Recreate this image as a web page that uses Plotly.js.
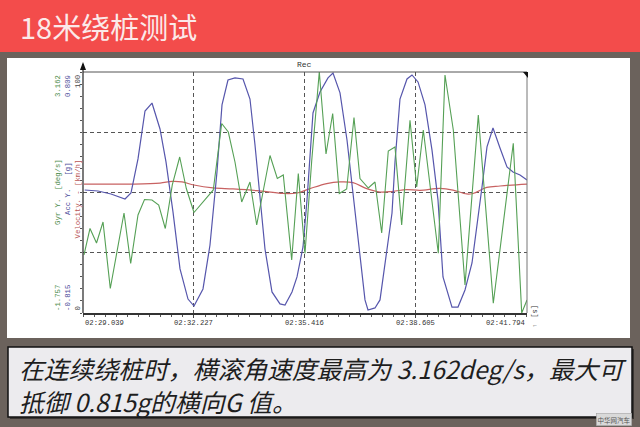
<!DOCTYPE html>
<html><head><meta charset="utf-8">
<script src="https://cdn.plot.ly/plotly-3.0.1.min.js"></script>
<style>html,body{margin:0;padding:0;background:#6b625c;}#chart{width:640px;height:427px;}</style>
</head><body><div id="chart"></div>
<script>
// ---- data ----
const tickTimes = [149.039, 152.227, 155.416, 158.605, 161.794];
const tickText = ['02:29.039', '02:32.227', '02:35.416', '02:38.605', '02:41.794'];
const recTime = 155.416;

const velRange = [0, 100];
const accRange = [-0.815, 0.809];
const gyrRange = [-1.757, 3.162];

const accT = [149.088,149.470,149.843,150.246,150.418,150.619,150.820,151.021,151.251,151.423,
  151.624,151.826,152.055,152.228,152.486,152.687,152.888,153.032,153.204,153.405,
  153.635,153.836,153.980,154.124,154.267,154.468,154.698,154.842,155.043,155.187,
  155.359,155.474,155.646,155.847,156.077,156.221,156.422,156.623,156.795,156.996,
  157.140,157.226,157.427,157.571,157.772,157.916,158.002,158.145,158.347,158.490,
  158.663,158.864,159.065,159.237,159.381,159.639,159.812,160.013,160.214,160.386,
  160.501,160.645,160.817,161.018,161.219,161.392,161.593,161.794];
const accY = [0.014,0.007,-0.013,-0.047,-0.006,0.223,0.546,0.600,0.425,0.203,
  -0.134,-0.518,-0.721,-0.768,-0.653,-0.357,0.135,0.587,0.755,0.769,
  0.762,0.627,0.317,-0.020,-0.384,-0.673,-0.754,-0.761,-0.673,-0.572,
  -0.370,-0.053,0.533,0.674,0.769,0.802,0.668,0.351,-0.006,-0.458,
  -0.727,-0.795,-0.781,-0.727,-0.400,-0.141,0.203,0.627,0.762,0.789,
  0.742,0.587,0.283,-0.053,-0.572,-0.775,-0.775,-0.660,-0.478,-0.188,
  0.034,0.304,0.432,0.297,0.169,0.135,0.115,0.081];

const gyrT = [149.068,149.240,149.427,149.614,149.823,150.217,150.409,150.619,150.806,151.021,
  151.214,151.403,151.604,151.817,152.007,152.228,152.782,153.023,153.213,153.405,
  153.598,153.836,154.029,154.411,154.621,154.793,155.034,155.224,155.416,155.609,
  155.827,156.020,156.212,156.402,156.614,156.824,156.996,157.235,157.427,157.620,
  157.809,158.002,158.194,158.433,158.625,158.815,159.246,159.438,159.677,160.013,
  160.395,160.826,161.400,161.642,161.794];
const gyrY = [-0.573,-0.032,-0.328,0.100,-1.257,0.284,-0.747,0.243,0.560,0.549,
  0.447,-0.032,0.856,1.427,0.784,0.294,0.754,2.111,1.937,1.325,
  0.509,0.917,0.039,1.458,0.988,1.060,-0.675,1.090,-0.543,1.345,
  3.162,1.488,2.315,0.682,0.774,2.233,0.988,0.794,0.917,-0.124,
  1.550,1.631,0.039,2.176,0.815,1.978,-0.538,3.101,1.978,-1.185,
  2.284,-1.559,1.707,-1.757,-1.492];

const velT = [149.068,150.475,151.251,151.596,151.883,152.228,152.774,153.348,154.037,154.784,
  155.187,155.560,156.040,156.422,156.795,157.189,157.571,157.944,158.338,158.720,
  159.295,159.668,160.062,160.243,160.636,161.018,161.794];
const velY = [53.5,53.5,53.9,54.6,54.4,53.1,51.9,51.5,50.8,49.6,
  49.8,51.6,53.7,54.4,54.1,51.6,50.2,50.5,51.2,50.9,
  51.7,51.0,49.4,49.6,52.1,52.7,53.5];

const pageTitle = '18米绕桩测试';
const captionLines = ['在连续绕桩时，横滚角速度最高为 3.162deg/s，最大可', '抵御 0.815g的横向G 值。'];
const watermark = '中华网汽车';
const gyrTitle = 'Gyr Y.\u00a0\u00a0[deg/s]';
const accTitle = 'Acc Y.\u00a0\u00a0\u00a0[g]';
const velTitle = 'Velocity.\u00a0-\u00a0[km/h]';

// ---- colours ----
const cGyr = '#55a055', cAcc = '#5656ac', cVel = '#c86262';
const cGyrT = '#4c8c4c', cAccT = '#4b4b9a', cVelT = '#b85454';

// ---- pixel helpers (plot area L..R, T..B) ----
const L = 83, R = 527, T = 72, B = 313;
const px = x => (x - L) / (R - L);
const py = y => (B - y) / (B - T);
function rect(x0, y0, x1, y1, fill, layer, line) {
  return {type: 'rect', xref: 'paper', yref: 'paper', x0: px(x0), x1: px(x1), y0: py(y1), y1: py(y0),
    fillcolor: fill, line: line || {width: 0}, layer: layer || 'below'};
}
function path(pts, fill) {
  const d = pts.map((p, i) => (i ? 'L' : 'M') + px(p[0]) + ',' + py(p[1])).join(' ') + ' Z';
  return {type: 'path', xref: 'paper', yref: 'paper', path: d, fillcolor: fill, line: {width: 0}, layer: 'above'};
}
const mono = 'Liberation Mono, Courier New, monospace';
function ann(text, xPix, yPix, o) {
  return Object.assign({text: text, xref: 'paper', yref: 'paper', x: px(xPix), y: py(yPix),
    showarrow: false, xanchor: 'center', yanchor: 'middle', font: {family: mono, size: 7, color: '#333'}}, o || {});
}

const shapes = [
  rect(0, 0, 640, 52, '#f34c4b'),
  rect(7, 58, 630, 338, '#ffffff'),
  rect(10, 349, 634, 419, '#3a3532'),
  rect(8, 347, 632, 417, '#ecebee', 'below', {color: '#111', width: 1.5}),
  // plot frame
  {type: 'line', xref: 'paper', yref: 'paper', x0: 0, x1: 1, y0: 1, y1: 1, line: {color: '#555', width: 1}, layer: 'above'},
  {type: 'line', xref: 'paper', yref: 'paper', x0: 1, x1: 1, y0: 0, y1: 1, line: {color: '#777', width: 1}, layer: 'above'},
  {type: 'line', xref: 'paper', yref: 'paper', x0: 0, x1: 0, y0: 0, y1: py(64), line: {color: '#333', width: 1.3}, layer: 'above'},
  path([[80, 70], [86, 70], [83, 62]], '#111'),
  path([[523, 72], [528, 72], [528, 78]], '#111')
];

const annotations = [
  ann(pageTitle, 18, 26, {xanchor: 'left', font: {family: 'Noto Sans CJK SC', size: 29, color: '#fbe9e9'}}),
  ann(captionLines[0], 17, 368, {xanchor: 'left', font: {family: 'Noto Sans CJK SC', size: 24.8, color: '#1e1e1e', style: 'italic'}}),
  ann(captionLines[1], 17, 401, {xanchor: 'left', font: {family: 'Noto Sans CJK SC', size: 24.8, color: '#1e1e1e', style: 'italic'}}),
  ann(watermark, 614, 419, {bgcolor: '#d9d9d9', bordercolor: '#999', borderwidth: 0.5, borderpad: 1,
    font: {family: 'Noto Sans CJK SC', size: 6.5, color: '#555'}}),
  // axis range labels
  ann(gyrRange[1].toFixed(3), 58, T + 1, {yanchor: 'top', textangle: -90, font: {family: mono, size: 7.3, color: cGyrT}}),
  ann(accRange[1].toFixed(3), 68, T + 1, {yanchor: 'top', textangle: -90, font: {family: mono, size: 7.3, color: cAccT}}),
  ann(String(velRange[1]), 77.5, T + 1, {yanchor: 'top', textangle: -90, font: {family: mono, size: 7.3, color: '#444'}}),
  ann(gyrRange[0].toFixed(3), 58, B, {yanchor: 'bottom', textangle: -90, font: {family: mono, size: 7.3, color: cGyrT}}),
  ann(accRange[0].toFixed(3), 68, B, {yanchor: 'bottom', textangle: -90, font: {family: mono, size: 7.3, color: cAccT}}),
  ann(String(velRange[0]), 77.5, B, {yanchor: 'bottom', textangle: -90, font: {family: mono, size: 7.3, color: '#444'}}),
  // axis titles
  ann(gyrTitle, 58, 192, {textangle: -90, font: {family: mono, size: 7.3, color: cGyrT}}),
  ann(accTitle, 68, 189, {textangle: -90, font: {family: mono, size: 7.3, color: cAccT}}),
  ann(velTitle, 77.5, 199, {textangle: -90, font: {family: mono, size: 7.3, color: cVelT}}),
  // Rec marker
  {text: 'Rec', xref: 'x', yref: 'paper', x: recTime, y: 1, yanchor: 'bottom', yshift: 1, showarrow: false,
    font: {family: mono, size: 8, color: '#333'}},
  // unit at right
  ann('[s]', 535, 311, {textangle: 90, font: {family: mono, size: 7, color: '#333'}}),
  ann('←', 535, 325, {font: {family: mono, size: 6, color: '#333'}})
];
// time labels
tickTimes.forEach((t, i) => {
  annotations.push({text: tickText[i], xref: 'x', yref: 'paper', x: t, y: 0, yanchor: 'top', yshift: -4,
    xanchor: i === 0 ? 'left' : (i === tickTimes.length - 1 ? 'right' : 'center'), showarrow: false,
    font: {family: mono, size: 7.2, color: '#333'}});
});

const traces = [
  {x: velT, y: velY, yaxis: 'y', type: 'scatter', mode: 'lines', line: {color: cVel, width: 1.2, shape: 'spline'}, name: 'Velocity'},
  {x: accT, y: accY, yaxis: 'y2', type: 'scatter', mode: 'lines', line: {color: cAcc, width: 1.2}, name: 'Acc Y'},
  {x: gyrT, y: gyrY, yaxis: 'y3', type: 'scatter', mode: 'lines', line: {color: cGyr, width: 1.1}, name: 'Gyr Y'}
];

const layout = {
  width: 640, height: 427,
  margin: {l: L, r: 640 - R, t: T, b: 427 - B, pad: 0},
  paper_bgcolor: '#6b625c', plot_bgcolor: '#ffffff',
  showlegend: false,
  xaxis: {range: [tickTimes[0], tickTimes[tickTimes.length - 1]], tickmode: 'array', tickvals: tickTimes.slice(1, -1),
    showticklabels: false, ticks: 'outside', ticklen: 3, tickcolor: '#444',
    showgrid: true, gridcolor: '#555', griddash: '4px,3px', gridwidth: 1,
    showline: true, linecolor: '#333', linewidth: 2, zeroline: false,
    minor: {tickmode: 'linear', tick0: tickTimes[0], dtick: (tickTimes[1] - tickTimes[0]) / 10, ticks: 'outside', ticklen: 2, tickcolor: '#555', showgrid: false}},
  yaxis: {range: velRange, tickmode: 'array', tickvals: [25, 50, 75], showticklabels: false, ticks: '',
    showgrid: true, gridcolor: '#555', griddash: '4px,3px', gridwidth: 1,
    showline: false, zeroline: false,
    minor: {tickmode: 'linear', tick0: 0, dtick: 5, ticks: 'outside', ticklen: 2, tickcolor: '#555', showgrid: false}},
  yaxis2: {range: accRange, overlaying: 'y', visible: false},
  yaxis3: {range: gyrRange, overlaying: 'y', visible: false},
  shapes: shapes,
  annotations: annotations
};

Plotly.newPlot('chart', traces, layout, {staticPlot: true, displayModeBar: false});
</script></body></html>
